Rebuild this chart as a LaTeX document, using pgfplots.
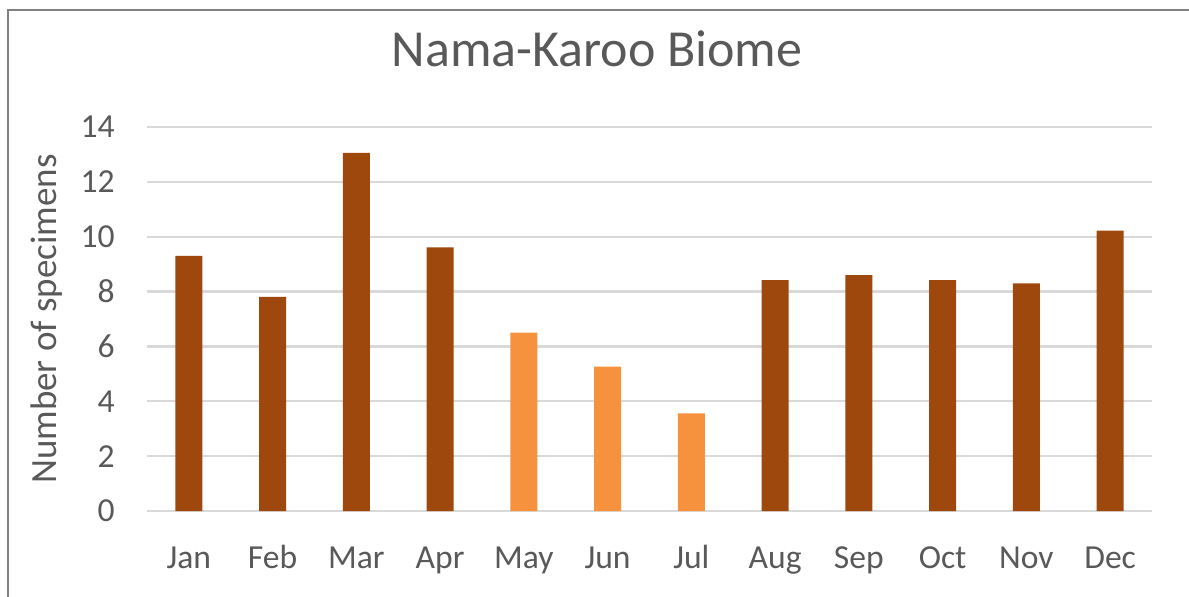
\documentclass[border=0pt]{standalone}
\usepackage{fontspec}
\setmainfont{Carlito}
\usepackage{pgfplots}
\pgfplotsset{compat=1.18}
\definecolor{darkbar}{RGB}{158,72,14}
\definecolor{lightbar}{RGB}{246,146,62}
\definecolor{txtgray}{RGB}{89,89,89}
\definecolor{gridgray}{RGB}{217,217,217}
\definecolor{framegray}{RGB}{128,128,128}
\begin{document}
\begin{tikzpicture}
\path[use as bounding box] (0,0) rectangle (594.5pt,298pt);
\draw[framegray, line width=1.2pt] (4pt,-5pt) -- (4pt,293pt) -- (600pt,293pt);
\node[anchor=base, text=txtgray, font=\fontsize{26}{30}\selectfont, inner sep=0pt] at (298.5pt,264.6pt) {Nama-Karoo Biome};
\begin{axis}[
  at={(73.5pt,42.5pt)}, anchor=south west,
  scale only axis, width=502.5pt, height=192pt,
  xmin=-0.5, xmax=11.5, ymin=0, ymax=14,
  ytick={0,2,...,14},
  xtick={0,...,11},
  xticklabels={Jan,Feb,Mar,Apr,May,Jun,Jul,Aug,Sep,Oct,Nov,Dec},
  axis line style={draw=none},
  major tick length=0pt,
  ymajorgrids, grid style={gridgray, line width=1.2pt},
  /pgf/number format/assume math mode=true,
  tick label style={text=txtgray, font=\fontsize{16.8}{19}\selectfont},
  yticklabel style={anchor=east, inner sep=0pt, xshift=-16pt},
  xticklabel style={anchor=base, inner sep=0pt, yshift=-28.5pt},
  ylabel={Number of specimens},
  ylabel style={at={(axis description cs:-0.0995,0.5)}, anchor=center, text=txtgray, font=\fontsize{18.5}{21}\selectfont, inner sep=0pt},
  ybar, bar width=13.5pt, bar shift=0pt,
  clip=false,
]
\addplot[fill=darkbar, draw=none] coordinates {(0,9.30) (1,7.81) (2,13.06) (3,9.61) (7,8.42) (8,8.60) (9,8.42) (10,8.30) (11,10.22)};
\addplot[fill=lightbar, draw=none] coordinates {(4,6.50) (5,5.26) (6,3.56)};
\end{axis}
\end{tikzpicture}
\end{document}
